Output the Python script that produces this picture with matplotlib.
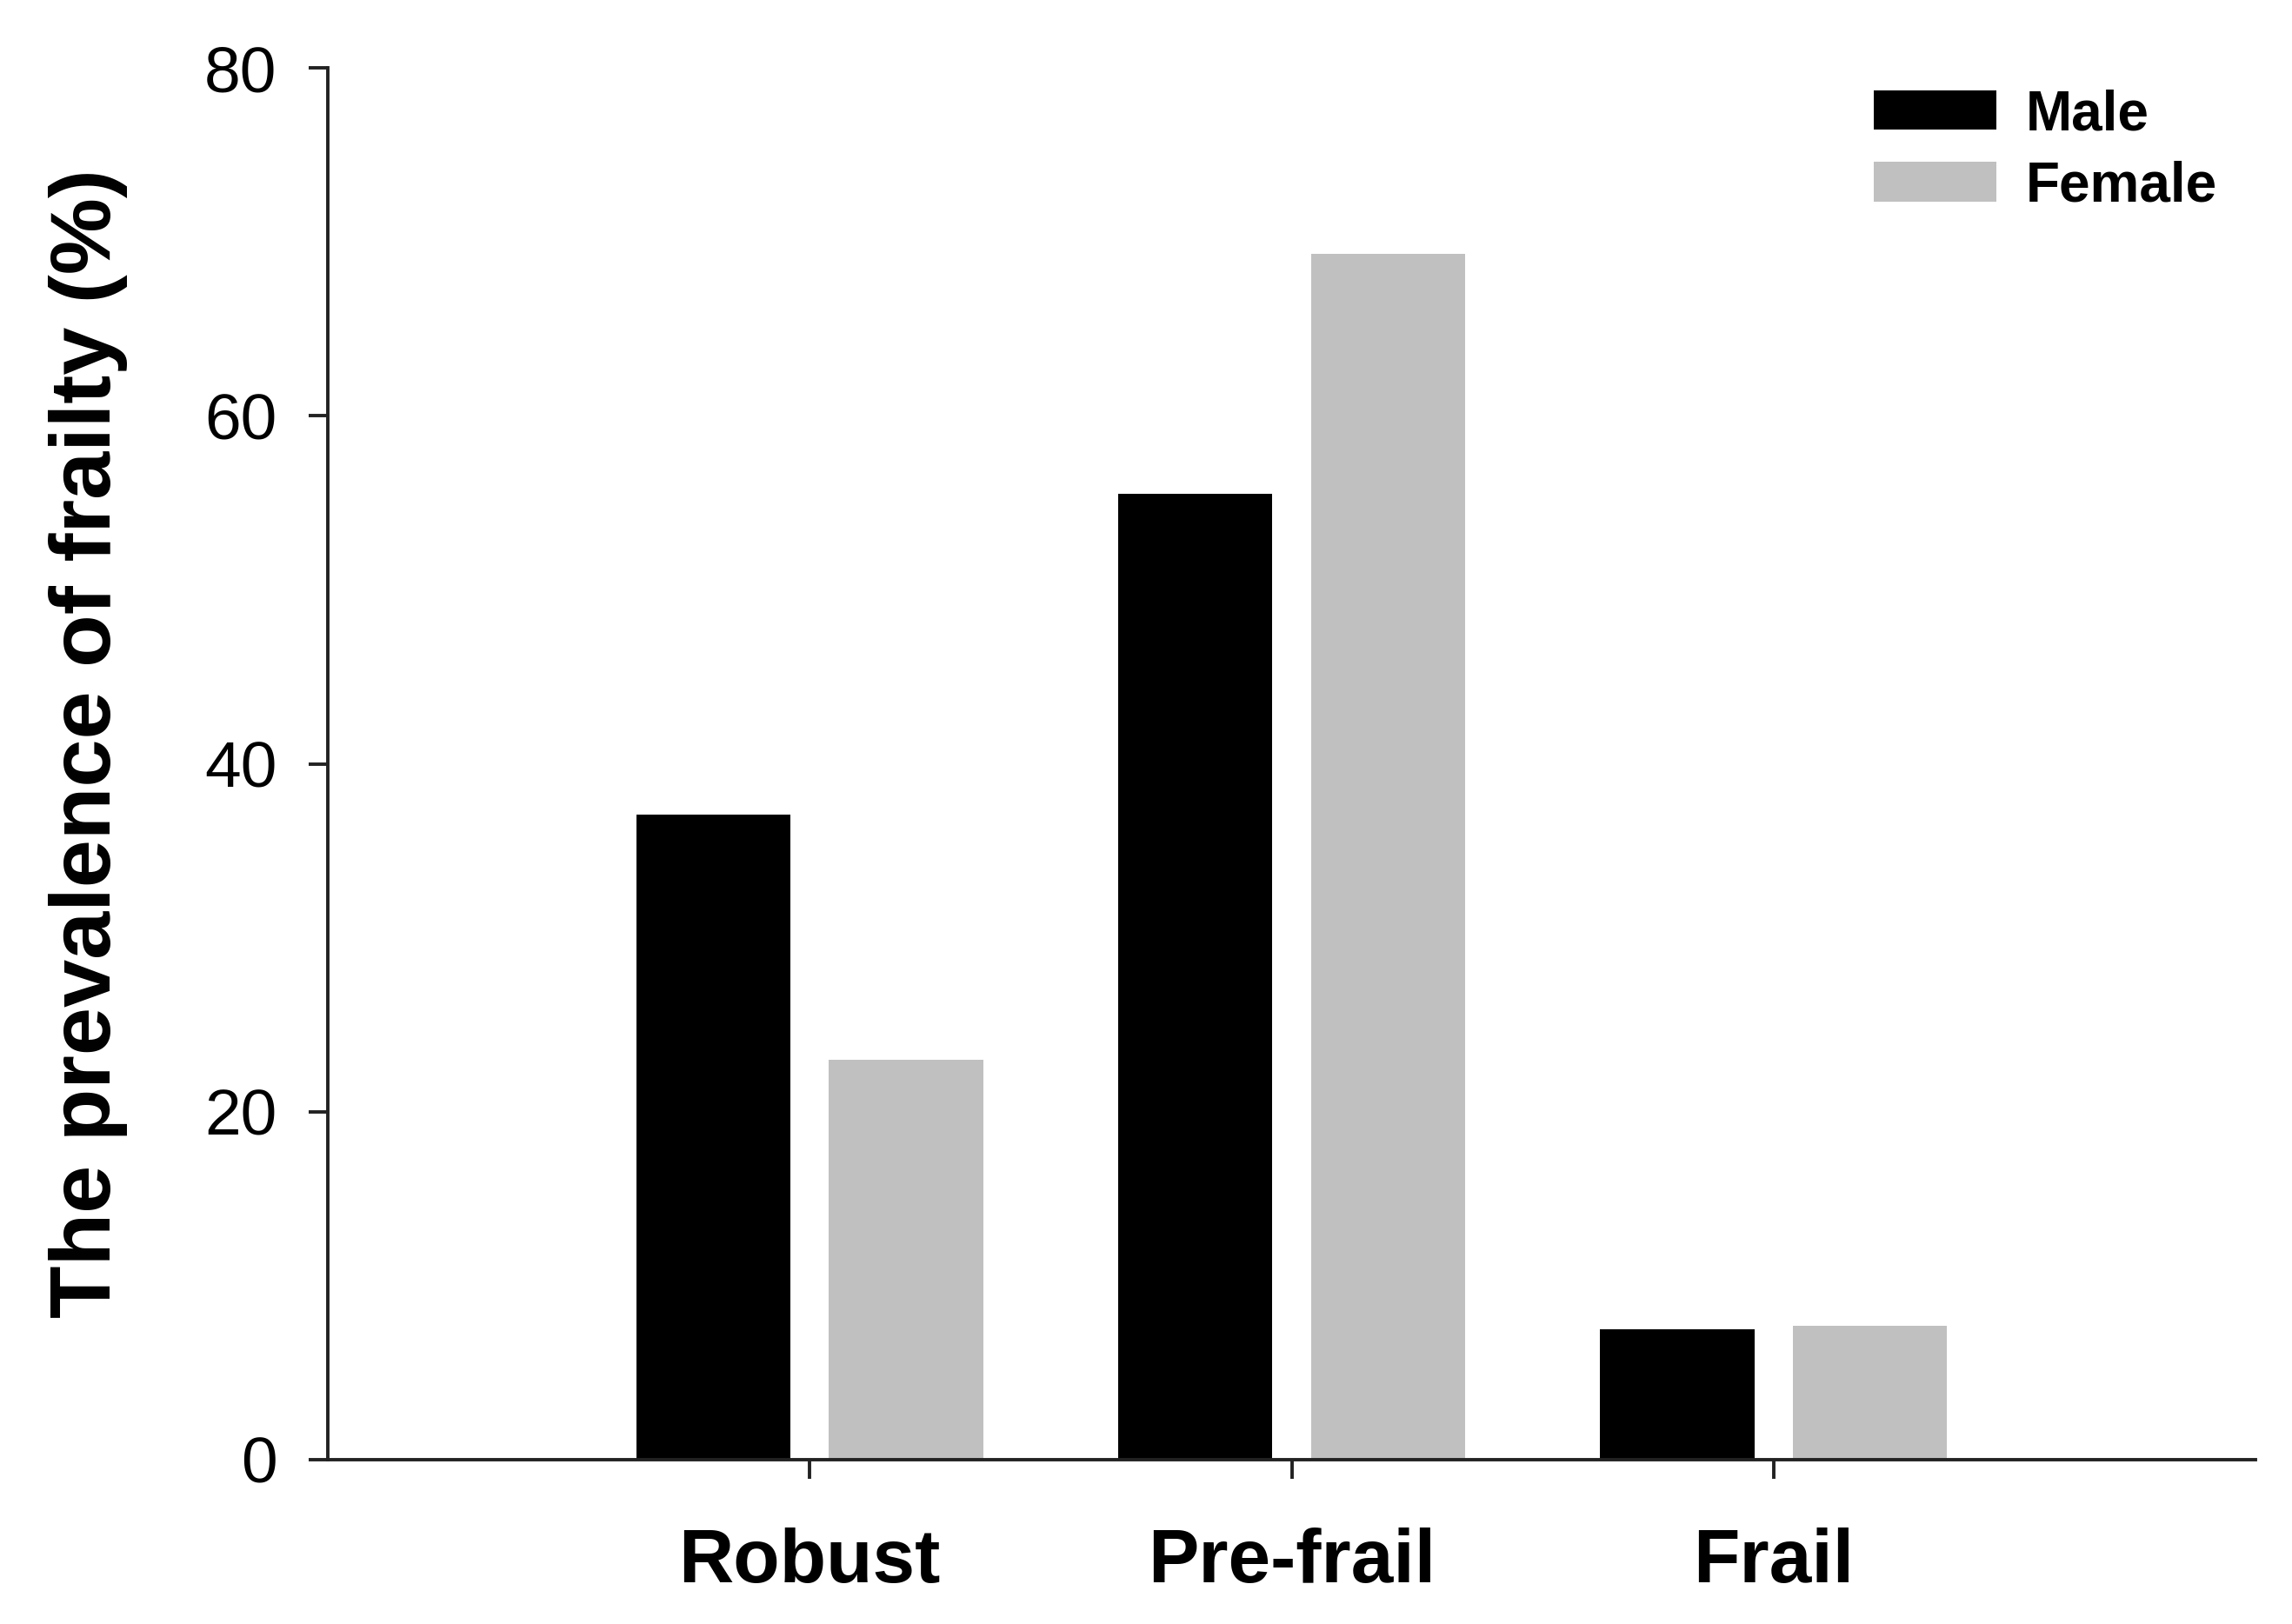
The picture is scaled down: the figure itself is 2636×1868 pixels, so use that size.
import matplotlib
matplotlib.use("Agg")
import matplotlib.pyplot as plt
import numpy as np

# Frailty status categories and prevalence (%) by sex
categories = ["Robust", "Pre-frail", "Frail"]
male = [37.1, 55.5, 7.5]
female = [23.0, 69.3, 7.7]
yticks = [0, 20, 40, 60, 80]

plt.rcParams["font.family"] = ["Liberation Sans", "DejaVu Sans"]

fig = plt.figure(figsize=(26.36, 18.68), dpi=100)
ax = fig.add_axes([0.1430, 0.1012, 0.8411, 0.8570])

x = np.arange(1, len(categories) + 1)
offset = 0.2
width = 0.32
ax.bar(x - offset, male, width, color="black", edgecolor="none", label="Male")
ax.bar(x + offset, female, width, color="#c0c0c0", edgecolor="none", label="Female")

ax.set_xlim(0, 4)
ax.set_ylim(0, 80)
ax.set_xticks(x)
ax.set_xticklabels(categories, fontsize=63, fontweight="bold")
ax.set_yticks(yticks)
ax.set_yticklabels([str(v) for v in yticks], fontsize=54)

for side in ("top", "right"):
    ax.spines[side].set_visible(False)
for side in ("left", "bottom"):
    ax.spines[side].set_linewidth(2.8)
    ax.spines[side].set_color("#222222")

ax.tick_params(axis="both", direction="out", length=16, width=2.8, color="#222222")
ax.tick_params(axis="y", pad=26)
ax.tick_params(axis="x", pad=40)

fig.text(102 / 2636, 1 - 855 / 1868, "The prevalence of frailty (%)",
         rotation=90, ha="center", va="center", fontsize=71.4, fontweight="bold")

leg = ax.legend(loc="upper left", bbox_to_anchor=(2155 / 2636, 1 - 102 / 1868),
                bbox_transform=fig.transFigure, frameon=False,
                prop={"size": 46, "weight": "bold"},
                handlelength=2.2, handleheight=0.72, handletextpad=0.53,
                labelspacing=0.35, borderpad=0, borderaxespad=0)

fig.savefig("out.png", dpi=100, facecolor="white")
